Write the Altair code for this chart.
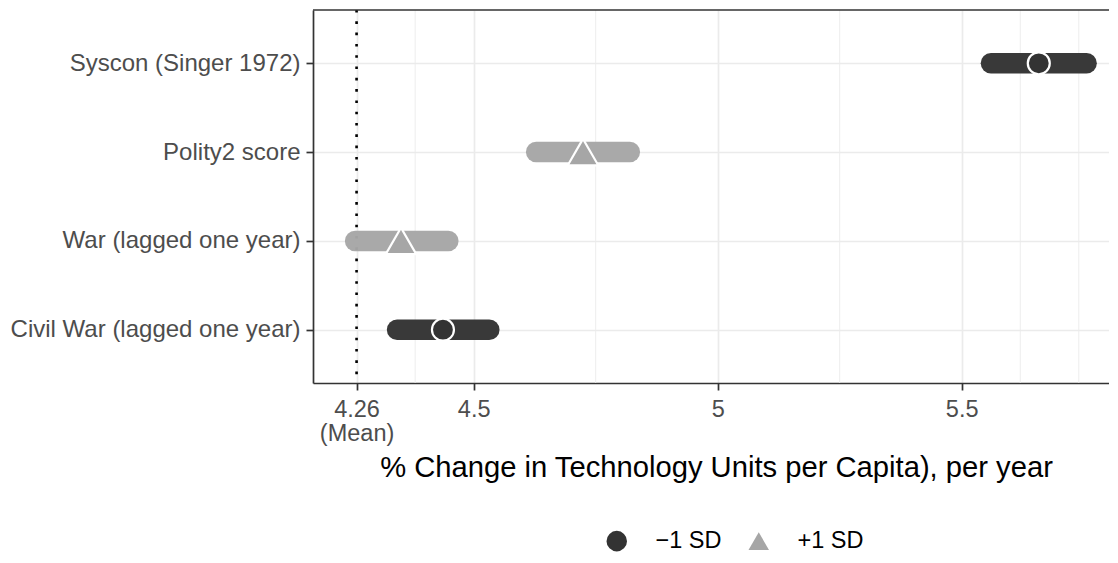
import altair as alt
import pandas as pd

# ---- data ----
categories = ["Syscon (Singer 1972)", "Polity2 score",
              "War (lagged one year)", "Civil War (lagged one year)"]
groups = ["\u22121 SD", "+1 SD", "+1 SD", "\u22121 SD"]
point_est = [5.658, 4.724, 4.351, 4.437]
low = [5.560, 4.628, 4.257, 4.343]
high = [5.756, 4.820, 4.448, 4.532]

mean_value = 4.26
x_breaks = [4.26, 4.5, 5, 5.5]
minor_breaks = [4.38, 4.75, 5.25, 5.62, 5.74]

legend_domain = ["\u22121 SD", "+1 SD"]
legend_colors = ["#333333", "#A6A6A6"]
legend_shapes = ["circle", "triangle-up"]

df = pd.DataFrame({"cat": categories, "grp": groups, "est": point_est,
                   "lo": low, "hi": high})
df_minor = pd.DataFrame({"v": minor_breaks})
df_mean = pd.DataFrame({"v": [mean_value]})

xscale = alt.Scale(domain=[4.1707, 5.8019], nice=False, zero=False)
yscale = alt.Scale(type="point", domain=categories, padding=0.6)

x_axis = alt.Axis(
    values=x_breaks, format="~g",
    labelExpr="datum.value == 4.26 ? ['4.26', '(Mean)'] : datum.label",
    labelFontSize=23.5, labelColor="#4D4D4D", labelLineHeight=24.5,
    labelPadding=7, tickSize=7, tickWidth=1.7, tickColor="#333333",
    domain=True, domainColor="#333333", domainWidth=1.7,
    grid=True, gridColor="#EBEBEB", gridWidth=1.7,
    title="% Change in Technology Units per Capita), per year",
    titleFontSize=29.2, titleFontWeight="normal", titleColor="#000000",
    titleBaseline="alphabetic", titleY=93, titleX=403,
)
y_axis = alt.Axis(
    title=None, labelFontSize=24, labelColor="#4D4D4D", labelPadding=6,
    labelLimit=0, tickSize=7, tickWidth=1.7, tickColor="#333333",
    domain=True, domainColor="#333333", domainWidth=1.7,
    grid=True, gridColor="#EBEBEB", gridWidth=1.7,
)

legend = alt.Legend(
    title=None, orient="none", legendX=292, legendY=519, direction="horizontal",
    labelFontSize=23.5, labelColor="#000000", symbolSize=420,
    symbolStrokeWidth=0, labelOffset=27, columnPadding=25, padding=0,
)

minor = alt.Chart(df_minor).mark_rule(color="#EBEBEB", strokeWidth=0.9).encode(
    x=alt.X("v:Q", scale=xscale, axis=x_axis)
)

top_border = alt.Chart(df_mean).mark_rule(color="#333333", strokeWidth=1.7).encode(
    y=alt.value(0), x=alt.value(0), x2=alt.value(900)
)

mean_line = alt.Chart(df_mean).mark_rule(
    color="#000000", strokeWidth=2.6, strokeDash=[2.6, 8.7]
).encode(x=alt.X("v:Q", scale=xscale))

bars = alt.Chart(df).mark_rule(strokeWidth=20.5, strokeCap="round", opacity=0.97).encode(
    x=alt.X("lo:Q", scale=xscale),
    x2="hi:Q",
    y=alt.Y("cat:N", scale=yscale, axis=y_axis, sort=categories),
    color=alt.condition(alt.datum.grp == legend_domain[1],
                        alt.value(legend_colors[1]), alt.value(legend_colors[0])),
)

points = alt.Chart(df).mark_point(filled=True, opacity=1, size=484).encode(
    x=alt.X("est:Q", scale=xscale),
    y=alt.Y("cat:N", scale=yscale, sort=categories),
    fill=alt.Fill("grp:N", scale=alt.Scale(domain=legend_domain, range=legend_colors),
                  legend=legend),
    shape=alt.Shape("grp:N", scale=alt.Scale(domain=legend_domain, range=legend_shapes),
                    legend=legend),
    stroke=alt.value("white"),
    strokeWidth=alt.value(2.2),
    size=alt.condition(alt.datum.grp == legend_domain[1], alt.value(930), alt.value(484)),
)

chart = alt.layer(minor, mean_line, bars, points, top_border).properties(
    width=796, height=373,
    padding={"left": 305, "top": 2, "right": 0, "bottom": 172},
    autosize=alt.AutoSizeParams(type="none"),
).configure(
    font="Liberation Sans",
).configure_view(
    stroke=None,
)

chart.save("out.html", embed_options={"renderer": "svg", "actions": False})
